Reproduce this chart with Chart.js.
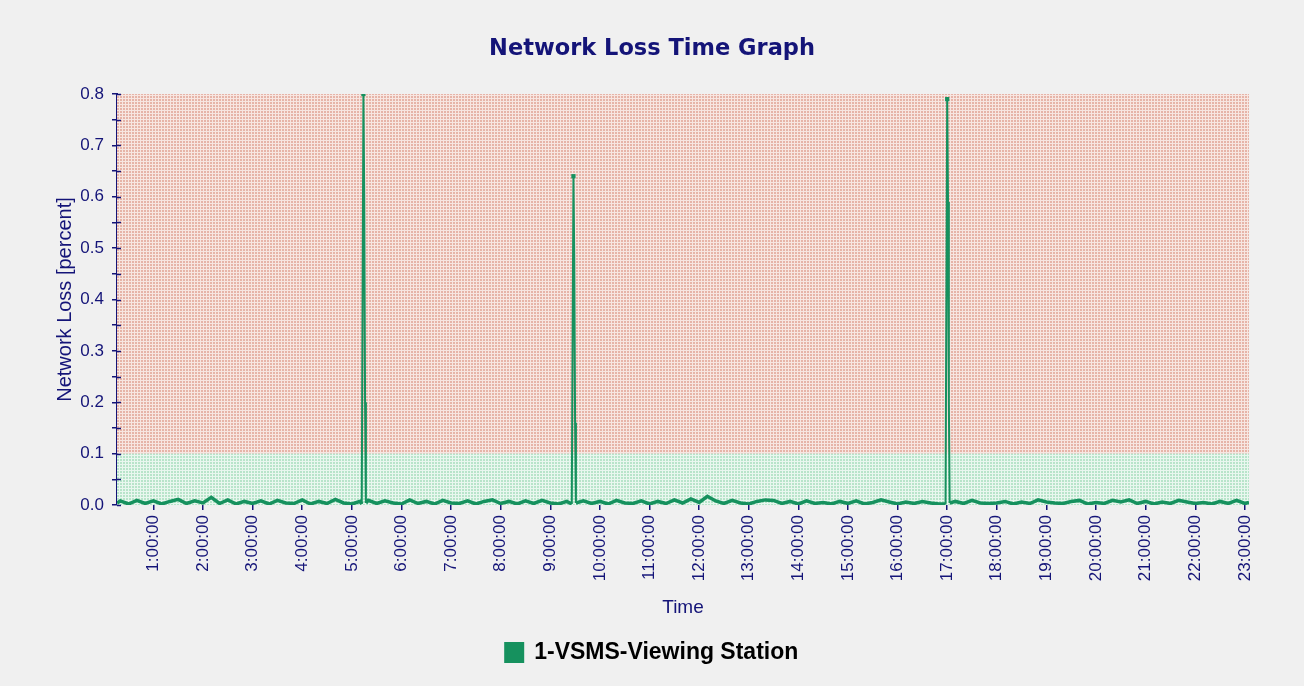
<!DOCTYPE html>
<html>
<head>
<meta charset="utf-8">
<script src="https://cdn.jsdelivr.net/npm/chart.js@4/dist/chart.umd.min.js"></script>
<style>
  html, body { margin: 0; padding: 0; background: #f0f0f0; }
  #wrap { width: 1304px; height: 686px; }
</style>
</head>
<body>
<div id="wrap"><canvas id="c" width="1304" height="686"></canvas></div>
<script>
// ---- data (time in minutes after midnight, loss in percent) ----
const seriesName = "1-VSMS-Viewing Station";
const times = [16,20,30,40,50,60,70,80,90,100,110,120,130,140,150,160,170,180,190,200,
  210,220,230,240,250,260,270,280,290,300,310,312,313,314,315,316,317,320,330,340,
  350,360,370,380,390,400,410,420,430,440,450,460,470,480,490,500,510,520,530,540,
  550,560,566,567,568,569,570,571,580,590,600,610,620,630,640,650,660,670,680,690,
  700,710,720,730,740,750,760,770,780,790,800,810,820,830,840,850,860,870,880,890,
  900,910,920,930,940,950,960,970,980,990,1000,1010,1018,1019,1020,1021,1022,1023,1030,1040,
  1050,1060,1070,1080,1090,1100,1110,1120,1130,1140,1150,1160,1170,1180,1190,1200,1210,1220,1230,1240,
  1250,1260,1270,1280,1290,1300,1310,1320,1330,1340,1350,1360,1370,1380,1385];
const lossValues = [0.004,0.008,0.002,0.009,0.003,0.008,0.002,0.007,0.011,0.003,0.008,0.004,0.015,0.003,0.010,0.002,0.007,0.003,0.008,0.002,
  0.009,0.004,0.003,0.010,0.002,0.007,0.003,0.011,0.004,0.002,0.007,0.002,0.4,0.8,0.6,0.2,0.004,0.009,0.003,0.008,
  0.004,0.002,0.010,0.003,0.007,0.002,0.009,0.004,0.003,0.008,0.002,0.007,0.010,0.003,0.007,0.002,0.008,0.003,0.009,0.004,
  0.002,0.007,0.002,0.32,0.64,0.48,0.16,0.004,0.008,0.003,0.007,0.002,0.009,0.004,0.003,0.008,0.002,0.007,0.003,0.010,
  0.004,0.012,0.005,0.017,0.008,0.003,0.009,0.004,0.002,0.007,0.010,0.009,0.003,0.007,0.002,0.008,0.003,0.005,0.002,0.007,
  0.003,0.008,0.002,0.005,0.010,0.006,0.002,0.006,0.003,0.007,0.004,0.002,0.002,0.395,0.79,0.59,0.2,0.004,0.007,0.003,
  0.009,0.004,0.003,0.004,0.007,0.002,0.006,0.003,0.010,0.006,0.004,0.003,0.007,0.009,0.002,0.005,0.003,0.009,0.006,0.010,
  0.003,0.007,0.002,0.006,0.003,0.009,0.006,0.003,0.005,0.002,0.007,0.003,0.009,0.003,0.005];
const hourTicks = [60,120,180,240,300,360,420,480,540,600,660,720,780,840,900,960,1020,1080,1140,1200,1260,1320,1380];
const hourLabels = ["1:00:00","2:00:00","3:00:00","4:00:00","5:00:00","6:00:00","7:00:00","8:00:00","9:00:00","10:00:00","11:00:00","12:00:00",
  "13:00:00","14:00:00","15:00:00","16:00:00","17:00:00","18:00:00","19:00:00","20:00:00","21:00:00","22:00:00","23:00:00"];
const xRange = [16, 1385];
const yRange = [0, 0.8];
const alarmThreshold = 0.1;

// ---- styles ----
const NAVY = '#141478';
const GREEN = '#16915e';
const FONT = '"Liberation Sans", Arial, sans-serif';

function makePattern(bg, dot) {
  const c = document.createElement('canvas');
  c.width = 3; c.height = 3;
  const g = c.getContext('2d');
  g.fillStyle = bg; g.fillRect(0, 0, 3, 3);
  g.fillStyle = dot; g.fillRect(0, 0, 2, 2);
  return c;
}
const pinkTile = makePattern('#f7e6e1', '#e6b4a8');
const greenTile = makePattern('#e9f7ef', '#b8e4ca');

const points = times.map((t, i) => ({ x: t, y: lossValues[i] }));
function isPeak(i) {
  const v = lossValues[i];
  return v > 0.1 && v >= (lossValues[i - 1] ?? 0) && v >= (lossValues[i + 1] ?? 0);
}

const bgPlugin = {
  id: 'bg',
  beforeDraw(chart) {
    const { ctx } = chart;
    ctx.save();
    ctx.fillStyle = '#f0f0f0';
    ctx.fillRect(0, 0, chart.width, chart.height);
    ctx.restore();
  },
  beforeDatasetsDraw(chart) {
    const { ctx, chartArea: a, scales: { y } } = chart;
    const yTop = y.getPixelForValue(yRange[1]);
    const yThr = y.getPixelForValue(alarmThreshold);
    const yBot = y.getPixelForValue(yRange[0]);
    ctx.save();
    ctx.fillStyle = ctx.createPattern(pinkTile, 'repeat');
    ctx.fillRect(a.left, yTop, a.right - a.left, yThr - yTop);
    ctx.fillStyle = ctx.createPattern(greenTile, 'repeat');
    ctx.fillRect(a.left, yThr, a.right - a.left, yBot - yThr);
    ctx.restore();
  },
  afterDraw(chart) {
    const { ctx, chartArea: a, scales: { y } } = chart;
    ctx.save();
    ctx.strokeStyle = NAVY;
    ctx.lineWidth = 1.5;
    y.ticks.forEach(t => {
      const py = Math.round(y.getPixelForValue(t.value)) + 0.5;
      ctx.beginPath();
      ctx.moveTo(a.left, py);
      ctx.lineTo(a.left + 4, py);
      ctx.stroke();
    });
    ctx.restore();
  }
};

new Chart(document.getElementById('c'), {
  type: 'line',
  data: {
    datasets: [{
      label: seriesName,
      data: points,
      borderColor: GREEN,
      backgroundColor: GREEN,
      borderWidth: 3,
      segment: {
        borderWidth: ctx => (ctx.p0.parsed.y > 0.05 || ctx.p1.parsed.y > 0.05) ? 2 : 3.5
      },
      pointStyle: 'rect',
      pointRadius: ctx => isPeak(ctx.dataIndex) ? 3 : 0,
      pointBackgroundColor: GREEN,
      pointBorderWidth: 0,
      tension: 0,
      fill: false
    }]
  },
  options: {
    responsive: false,
    animation: false,
    events: [],
    layout: { padding: { left: 0, right: 0, top: 0, bottom: 12 } },
    plugins: {
      title: {
        display: true,
        text: 'Network Loss Time Graph',
        color: NAVY,
        font: { family: '"DejaVu Sans", Verdana, sans-serif', size: 22.5, weight: 'bold' },
        padding: { top: 36, bottom: 31 }
      },
      legend: {
        display: true,
        position: 'bottom',
        labels: {
          color: '#000',
          boxWidth: 17,
          boxHeight: 18,
          padding: 4,
          font: { family: FONT, size: 23, weight: 'bold' }
        }
      },
      tooltip: { enabled: false }
    },
    scales: {
      x: {
        type: 'linear',
        min: xRange[0],
        max: xRange[1],
        afterBuildTicks: axis => { axis.ticks = hourTicks.map(v => ({ value: v })); },
        afterFit: s => { s.paddingRight = 55; s.paddingLeft = 0; },
        ticks: {
          autoSkip: false,
          minRotation: 90,
          maxRotation: 90,
          color: NAVY,
          padding: 5,
          font: { family: FONT, size: 17 },
          callback: (v) => hourLabels[hourTicks.indexOf(v)] ?? ''
        },
        grid: { drawOnChartArea: false, drawTicks: true, tickLength: 5, color: NAVY, lineWidth: 1.5 },
        border: { display: false },
        title: {
          display: true,
          text: 'Time',
          color: NAVY,
          font: { family: FONT, size: 19 },
          padding: { top: 10, bottom: 18 }
        }
      },
      y: {
        min: yRange[0],
        max: yRange[1],
        afterFit: s => { s.width = 117; },
        ticks: {
          stepSize: 0.05,
          color: NAVY,
          padding: 8,
          font: { family: FONT, size: 17 },
          callback: v => (Math.round(v * 100) % 10 === 0) ? v.toFixed(1) : ''
        },
        grid: { drawOnChartArea: false, drawTicks: true, tickLength: 5, color: NAVY, lineWidth: 1.5 },
        border: { display: true, color: NAVY, width: 2 },
        title: {
          display: true,
          text: 'Network Loss [percent]',
          color: NAVY,
          font: { family: FONT, size: 20 },
          padding: { top: 53, bottom: 0 }
        }
      }
    }
  },
  plugins: [bgPlugin]
});
</script>
</body>
</html>
